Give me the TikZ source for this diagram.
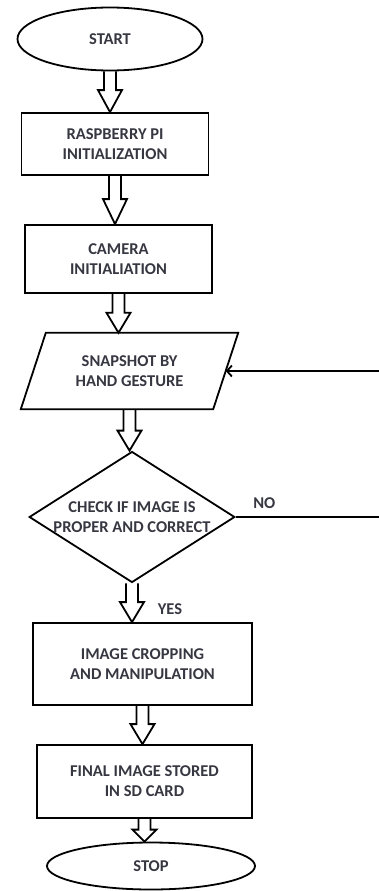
\documentclass[tikz,border=0pt]{standalone}
\usepackage{fontspec}
\setmainfont{Carlito}
\usetikzlibrary{shapes.geometric,arrows.meta}
\definecolor{labelgray}{RGB}{55,55,66}
\tikzset{
	flowline/.style={line width=1.8pt,line join=miter},
	every node/.style={font=\bfseries\fontsize{16.5}{20}\selectfont,text=labelgray,align=center},
	terminal/.style={ellipse,draw,flowline,inner sep=0pt},
	process/.style={rectangle,draw,flowline,inner sep=0pt},
	inputbox/.style={rectangle,inner sep=0pt},
	decision/.style={diamond,draw,flowline,inner sep=0pt,aspect=1.57},
	hollowarrow/.style={flowline}
}
% hollow block arrow from the bottom of #2 to the top of #3, head length #1
\newcommand{\flowarrow}[3][20]{%
	\coordinate (tip) at (#2.south |- #3.north);
	\draw[hollowarrow] ([xshift=-6pt]#2.south) -- ([xshift=-6pt,yshift=#1pt]tip)
		-- ([xshift=-12pt,yshift=#1pt]tip) -- (tip) -- ([xshift=12pt,yshift=#1pt]tip)
		-- ([xshift=6pt,yshift=#1pt]tip) -- ([xshift=6pt]#2.south);}
\begin{document}
\begin{tikzpicture}[x=1pt,y=-1pt]
	\useasboundingbox (0,0) rectangle (379,891);
	\node[terminal,minimum width=185pt,minimum height=63pt] (start) at (110,39) {START};
	\node[process,minimum width=187pt,minimum height=62pt] (rpi) at (115,144) {RASPBERRY PI\\INITIALIZATION};
	\node[process,minimum width=187pt,minimum height=68pt] (cam) at (118.5,259) {CAMERA\\INITIALIATION};
	\node[inputbox,minimum width=192pt,minimum height=76pt] (snap) at (129.5,371) {SNAPSHOT BY\\HAND GESTURE};
	\draw[flowline] ([xshift=-12.5pt]snap.south west) -- ([xshift=-12.5pt]snap.south east)
		-- ([xshift=12.5pt]snap.north east) -- ([xshift=12.5pt]snap.north west) -- cycle;
	\node[decision,minimum width=203pt,minimum height=129pt] (chk) at (132,517) {CHECK IF IMAGE IS\\PROPER AND CORRECT};
	\node[process,minimum width=219pt,minimum height=82pt] (crop) at (142.5,664) {IMAGE CROPPING\\AND MANIPULATION};
	\node[process,minimum width=215pt,minimum height=73pt] (store) at (144.5,781.5) {FINAL IMAGE STORED\\IN SD CARD};
	\node[terminal,minimum width=208pt,minimum height=47pt] (stop) at (151,866) {STOP};
	\coordinate (rightedge) at (379,0);

	\flowarrow[22]{start}{rpi}
	\flowarrow[25]{rpi}{cam}
	\flowarrow{cam}{snap}
	\flowarrow{snap}{chk}
	\flowarrow{chk}{crop}
	\flowarrow{crop}{store}
	\flowarrow[12]{store}{stop}
	\node (yes) at ([xshift=38pt,yshift=-26pt]chk.south) {YES};

	\draw[flowline] (chk.east) -- node[pos=0.2,above=4pt] (no) {NO} (chk.east -| rightedge);
	\draw[flowline,-{Straight Barb[length=5pt,width=11pt]}] (snap.east -| rightedge) -- (snap.east);
\end{tikzpicture}
\end{document}
